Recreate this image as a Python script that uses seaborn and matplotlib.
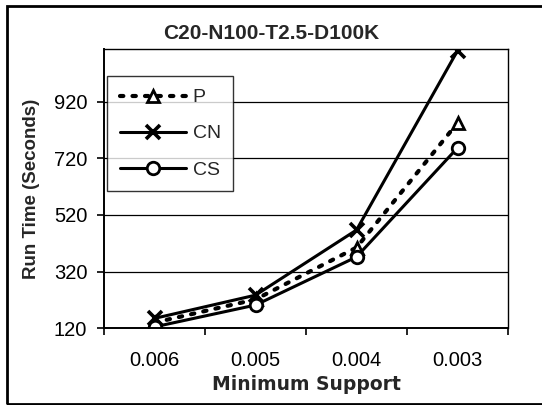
import matplotlib
matplotlib.use("Agg")
import matplotlib.pyplot as plt
import seaborn as sns
import pandas as pd
from matplotlib.patches import Rectangle

# Run time per algorithm for each minimum support threshold
support = ["0.006", "0.005", "0.004", "0.003"]
p_times = [140, 222, 405, 845]
cn_times = [155, 237, 467, 1100]
cs_times = [125, 202, 372, 757]

df = pd.DataFrame({
    "support": support * 3,
    "time": p_times + cn_times + cs_times,
    "alg": ["P"] * 4 + ["CN"] * 4 + ["CS"] * 4,
})

sns.set_theme(style="white")
plt.rcParams["font.family"] = ["Liberation Sans", "DejaVu Sans"]

fig = plt.figure(figsize=(5.42, 4.05), dpi=100)
ax = fig.add_axes([0.1919, 0.1894, 0.7454, 0.6896])

styles = {
    "P": dict(ls=(0, (0.8, 2.2)), marker="^", ms=8, dash_capstyle="round"),
    "CN": dict(ls="-", marker="x", ms=10, mew=2.6),
    "CS": dict(ls="-", marker="o", ms=9),
}
xpos = {s: i for i, s in enumerate(support)}
for alg in ["P", "CN", "CS"]:
    sub = df[df["alg"] == alg]
    st = dict(styles[alg])
    ls = st.pop("ls")
    mew = st.pop("mew", 2.0)
    sns.lineplot(x=sub["support"].map(xpos), y=sub["time"], ax=ax,
                 color="black", lw=2.2 if alg != "P" else 3.0,
                 linestyle=ls, mfc="white", mec="black", mew=mew,
                 label=alg, sort=False, **st)

ax.set_xlim(-0.5, 3.5)
ax.set_ylim(120, 1106)
ax.set_yticks([120, 320, 520, 720, 920])
ax.set_xticks([0, 1, 2, 3])
ax.set_xticklabels(support)
ax.set_xticks([-0.5, 0.5, 1.5, 2.5, 3.5], minor=True)
ax.tick_params(axis="x", which="major", length=0, labelsize=14.5, pad=16,
               colors="black")
ax.tick_params(axis="x", which="minor", length=5, width=1.2, direction="out",
               bottom=True, color="black")
ax.tick_params(axis="y", which="major", length=5, width=1.2, direction="out",
               left=True, labelsize=14.5, colors="black", pad=7)
ax.yaxis.grid(True, color="black", lw=0.9)
ax.xaxis.grid(False)
for side in ["left", "bottom", "right", "top"]:
    ax.spines[side].set_visible(True)
    ax.spines[side].set_color("black")
ax.spines["left"].set_linewidth(1.4)
ax.spines["bottom"].set_linewidth(1.4)
ax.spines["right"].set_linewidth(1.0)
ax.spines["top"].set_linewidth(1.0)

ax.set_xlabel("Minimum Support", fontsize=13.5, fontweight="bold",
              family=["DejaVu Sans"], labelpad=4)
ax.set_ylabel("Run Time (Seconds)", fontsize=13.5, fontweight="bold",
              labelpad=10)
fig.text(0.5, 0.918, "C20-N100-T2.5-D100K", ha="center", va="center",
         fontsize=15, fontweight="bold")

leg = ax.legend(loc="upper left", bbox_to_anchor=(0.0074, 0.903),
                frameon=True, fancybox=False, edgecolor="black", fontsize=14,
                handlelength=3.4, borderpad=0.65, labelspacing=0.95,
                handletextpad=0.35, borderaxespad=0.0)
leg.get_frame().set_linewidth(1.0)

# outer border around the figure
fig.patches.append(Rectangle((7 / 542, 1 - 404 / 405), 1.2, 398 / 405,
                             transform=fig.transFigure, fill=False,
                             edgecolor="black", lw=2.0))

fig.savefig("out.png", dpi=100)
